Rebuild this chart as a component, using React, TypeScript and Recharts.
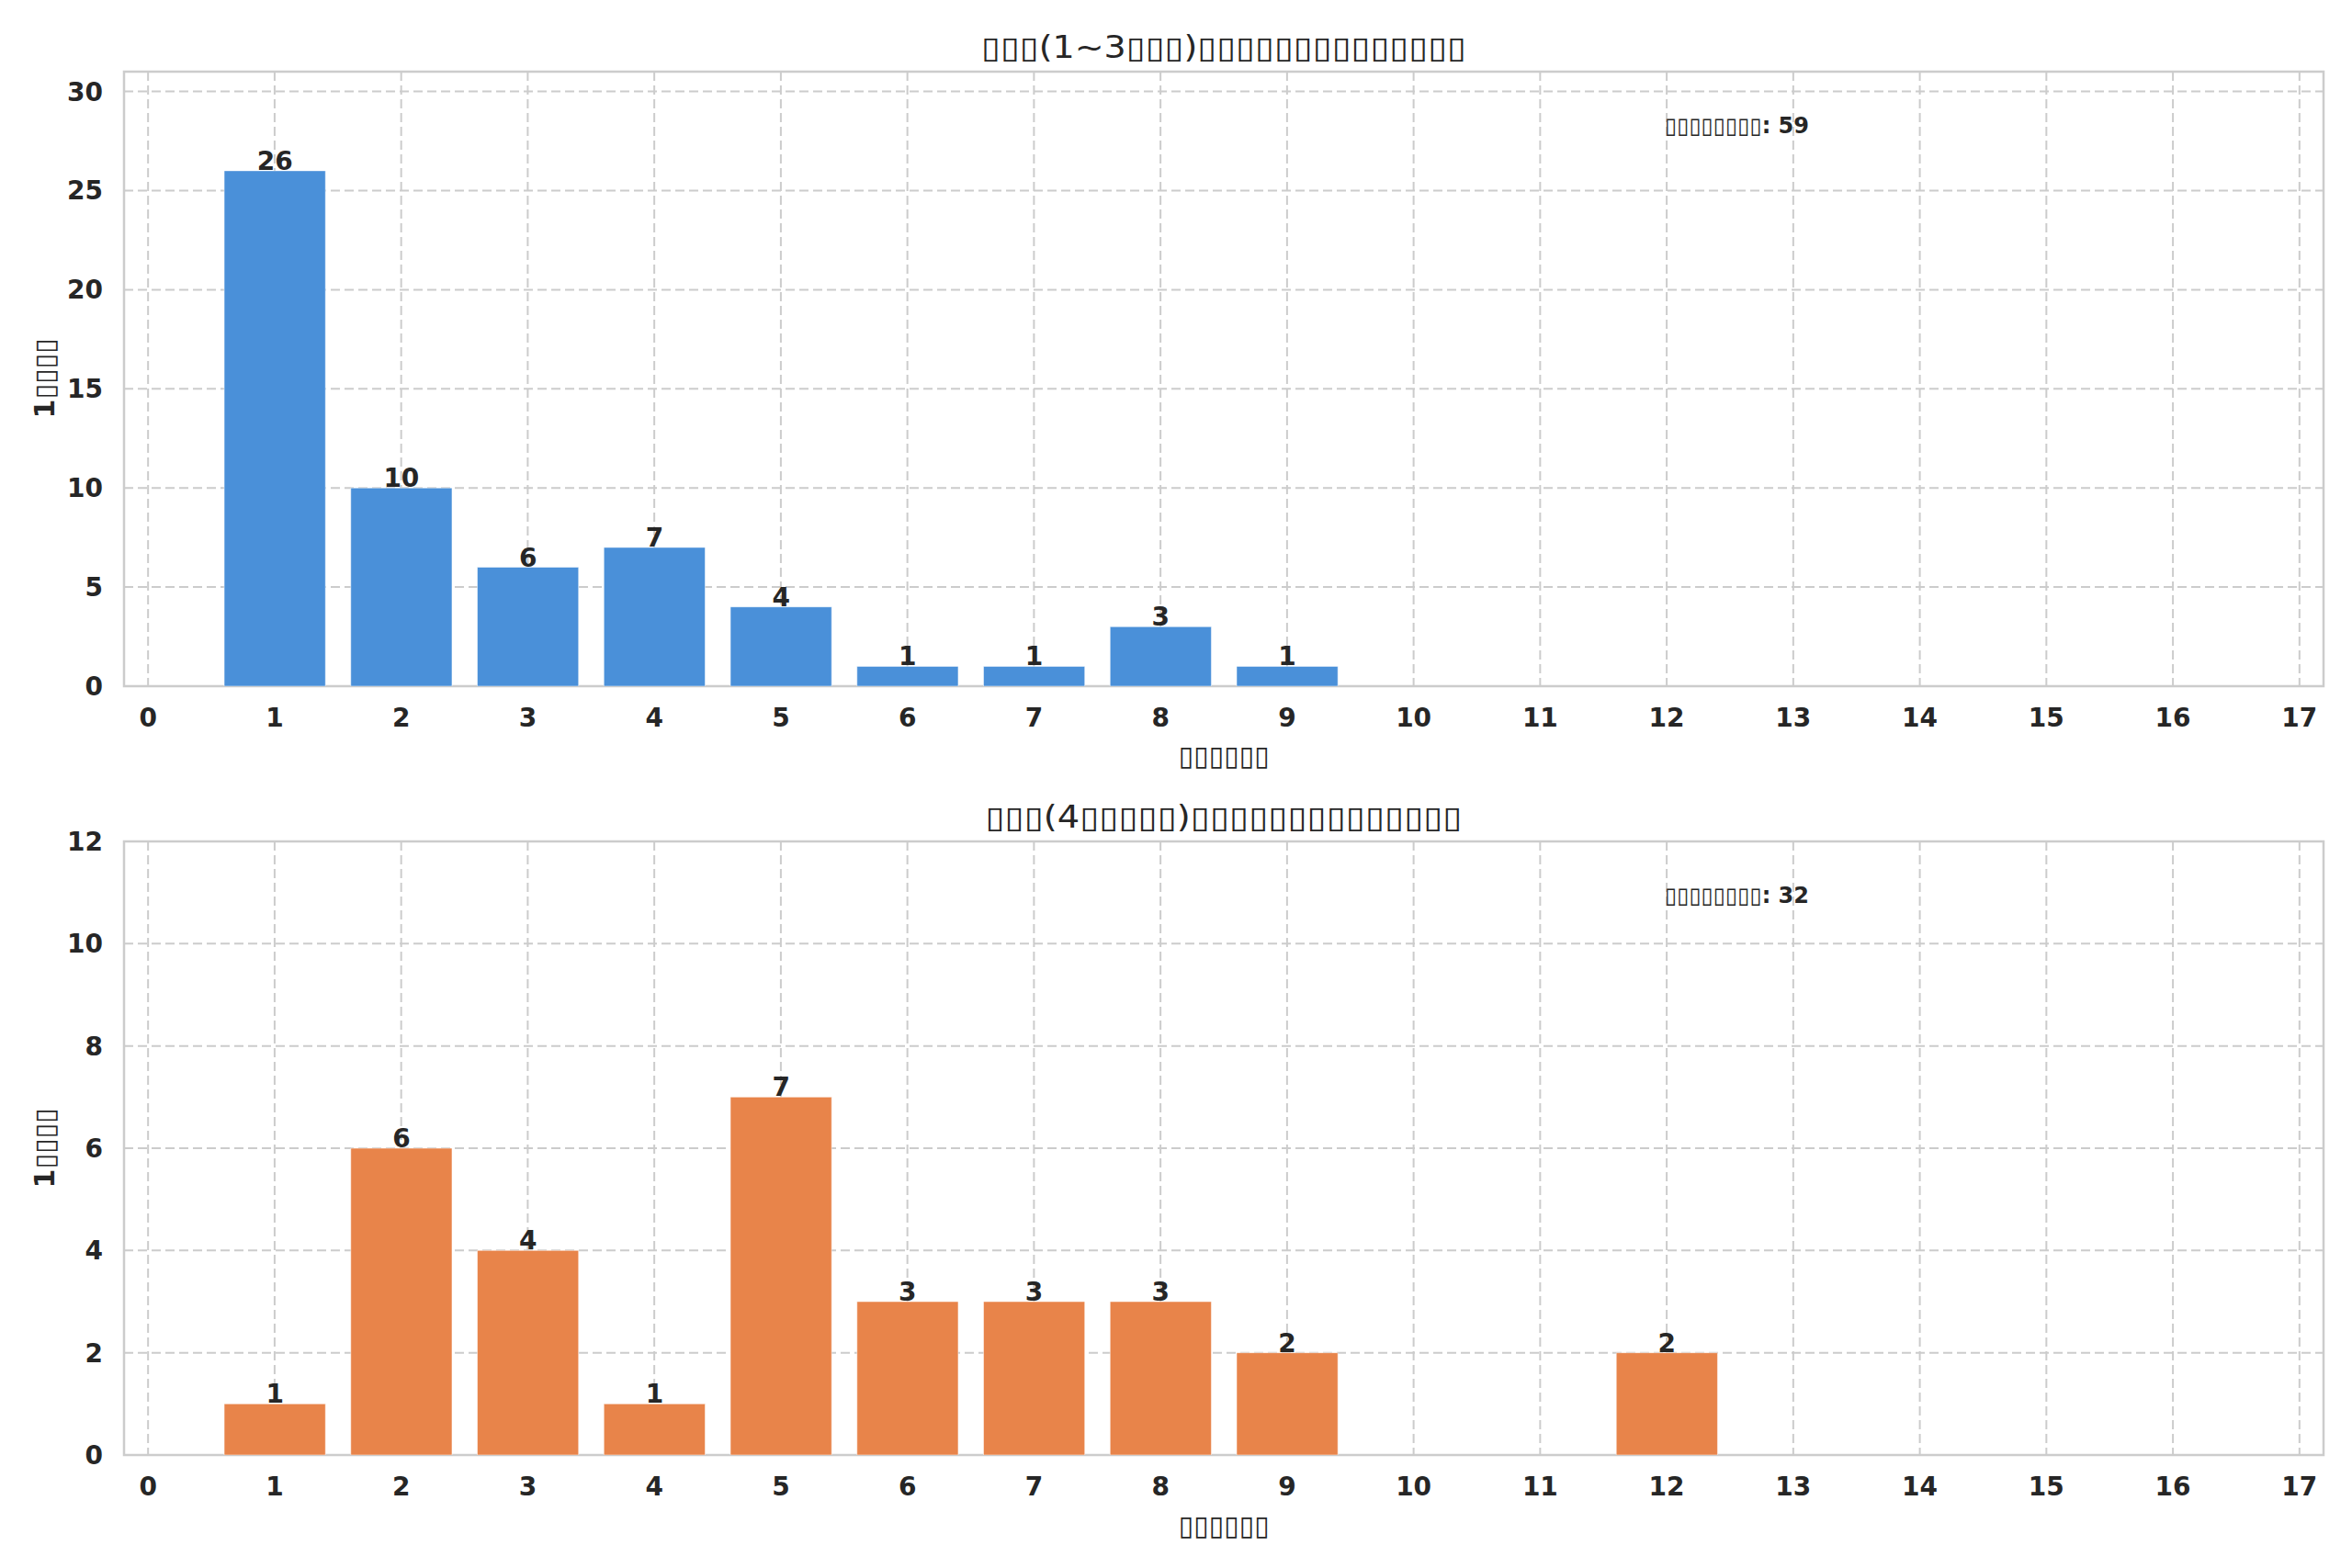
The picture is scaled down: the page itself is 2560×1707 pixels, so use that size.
import React from 'react';
import {
  BarChart,
  Bar,
  XAxis,
  YAxis,
  CartesianGrid,
  LabelList,
  ReferenceArea,
} from 'recharts';

// tofu boxes stand in for the glyphs the source font could not draw
const BOX = '\u25AF';
const boxes = (n: number) => BOX.repeat(n);

const hoursLower = [1, 2, 3, 4, 5, 6, 7, 8, 9];
const countsLower = [26, 10, 6, 7, 4, 1, 1, 3, 1];

const hoursUpper = [1, 2, 3, 4, 5, 6, 7, 8, 9, 12];
const countsUpper = [1, 6, 4, 1, 7, 3, 3, 3, 2, 2];

const xTicks = [0, 1, 2, 3, 4, 5, 6, 7, 8, 9, 10, 11, 12, 13, 14, 15, 16, 17];
const yTicksLower = [0, 5, 10, 15, 20, 25, 30];
const yTicksUpper = [0, 2, 4, 6, 8, 10, 12];

const titleLower = `${boxes(3)}(1~3${boxes(3)})${boxes(14)}`;
const titleUpper = `${boxes(3)}(4${boxes(5)})${boxes(14)}`;
const xLabel = boxes(6);
const yLabel = `1${boxes(4)}`;
const totalLabel = boxes(8);

const BLUE = '#4A90D9';
const ORANGE = '#E8844A';
const TEXT = '#262626';
const GRID = '#cccccc';
const FONT = '"DejaVu Sans", sans-serif';

const X_MIN = -0.19;
const X_MAX = 17.19;
const PLOT_W = 2394;
const BAR_SIZE = (0.8 * PLOT_W) / (X_MAX - X_MIN);

const toRows = (xs: number[], ys: number[]) => xs.map((x, i) => ({ x, count: ys[i] }));

const tickStyle = { fontFamily: FONT, fontSize: 28, fontWeight: 700, fill: TEXT };

const BarValue = (props: any) => {
  const { x, y, width, value } = props;
  if (!value) return null;
  return (
    <text
      x={Number(x) + Number(width) / 2}
      y={Number(y) - 1}
      textAnchor="middle"
      fontFamily={FONT}
      fontSize={28}
      fontWeight={700}
      fill={TEXT}
    >
      {value}
    </text>
  );
};

interface PanelProps {
  rows: { x: number; count: number }[];
  yTicks: number[];
  color: string;
  height: number;
  top: number;
  marginTop: number;
  marginBottom: number;
}

const Panel: React.FC<PanelProps> = ({ rows, yTicks, color, height, top, marginTop, marginBottom }) => {
  const yMax = Math.max(...rows.map((r) => r.count)) + 5;
  return (
    <div style={{ position: 'absolute', left: 0, top }}>
      <BarChart
        width={2560}
        height={height}
        data={rows}
        margin={{ top: marginTop, right: 31, bottom: marginBottom, left: 0 }}
      >
        <CartesianGrid stroke={GRID} strokeWidth={2} strokeDasharray="10 5" />
        <XAxis
          dataKey="x"
          type="number"
          domain={[X_MIN, X_MAX]}
          ticks={xTicks}
          interval={0}
          allowDataOverflow
          height={93}
          axisLine={false}
          tickLine={false}
          tickSize={0}
          tickMargin={24}
          tick={tickStyle}
        />
        <YAxis
          type="number"
          domain={[0, yMax]}
          ticks={yTicks}
          interval={0}
          allowDataOverflow
          width={135}
          axisLine={false}
          tickLine={false}
          tickSize={0}
          tickMargin={23}
          tick={tickStyle}
        />
        <Bar
          dataKey="count"
          fill={color}
          stroke="#ffffff"
          strokeOpacity={0.5}
          strokeWidth={1}
          barSize={BAR_SIZE}
          isAnimationActive={false}
        >
          <LabelList dataKey="count" content={BarValue} />
        </Bar>
        <ReferenceArea
          x1={X_MIN}
          x2={X_MAX}
          y1={0}
          y2={yMax}
          fill="none"
          stroke={GRID}
          strokeWidth={2.5}
          ifOverflow="visible"
        />
      </BarChart>
    </div>
  );
};

const App: React.FC = () => {
  const centerX = 135 + PLOT_W / 2;
  const shift = 838;
  return (
    <div
      style={{
        position: 'absolute',
        left: 0,
        top: 0,
        width: 2560,
        height: 1707,
        background: '#ffffff',
        overflow: 'hidden',
      }}
    >
      <Panel
        rows={toRows(hoursLower, countsLower)}
        yTicks={yTicksLower}
        color={BLUE}
        height={840}
        top={0}
        marginTop={78}
        marginBottom={0}
      />
      <Panel
        rows={toRows(hoursUpper, countsUpper)}
        yTicks={yTicksUpper}
        color={ORANGE}
        height={867}
        top={840}
        marginTop={76}
        marginBottom={30}
      />
      <svg
        width={2560}
        height={1707}
        style={{ position: 'absolute', left: 0, top: 0, pointerEvents: 'none' }}
        fontFamily={FONT}
        fill={TEXT}
      >
        {[
          { title: titleLower, titleW: 528, total: countsLower.reduce((a, b) => a + b, 0), dy: 0 },
          { title: titleUpper, titleW: 519, total: countsUpper.reduce((a, b) => a + b, 0), dy: shift },
        ].map((p, i) => (
          <g key={i}>
            <text
              x={centerX}
              y={51 + p.dy}
              textAnchor="middle"
              dominantBaseline="central"
              fontSize={33}
              textLength={p.titleW}
              lengthAdjust="spacingAndGlyphs"
            >
              {p.title}
            </text>
            <text x={1812} y={137 + p.dy} dominantBaseline="central" fontSize={24} fontWeight={700}>
              {`${totalLabel}: ${p.total}`}
            </text>
            <text x={centerX} y={822 + p.dy} textAnchor="middle" dominantBaseline="central" fontSize={30} fontWeight={700}>
              {xLabel}
            </text>
            <text
              transform={`translate(48, ${412 + p.dy}) rotate(-90)`}
              textAnchor="middle"
              dominantBaseline="central"
              fontSize={30}
              fontWeight={700}
            >
              {yLabel}
            </text>
          </g>
        ))}
      </svg>
    </div>
  );
};

export default App;
